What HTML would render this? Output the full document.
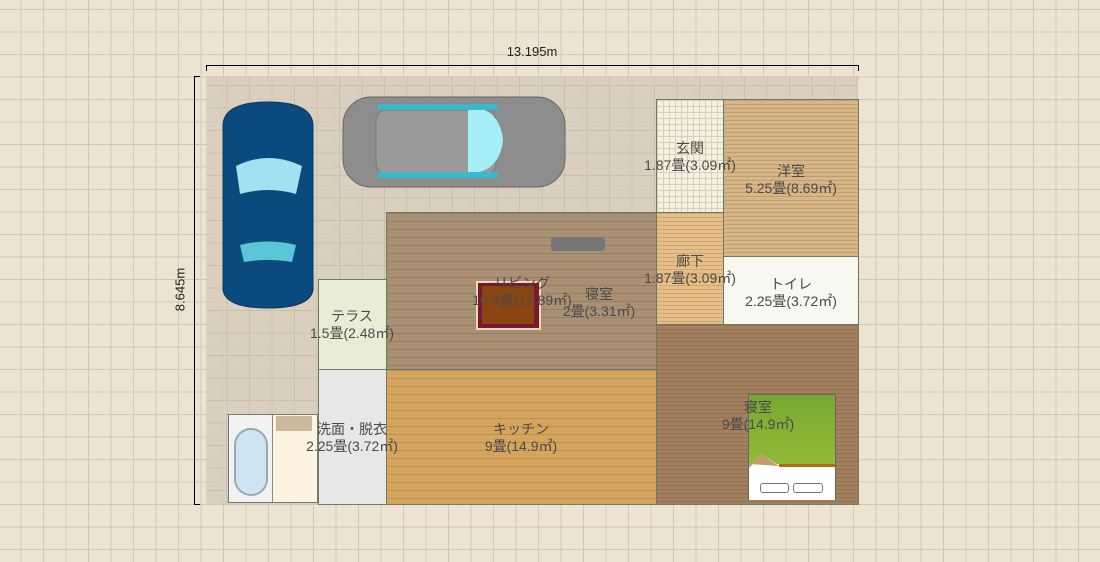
<!DOCTYPE html>
<html><head><meta charset="utf-8"><style>
body{margin:0;width:1100px;height:562px;overflow:hidden;font-family:"Liberation Sans","Noto Sans CJK JP",sans-serif;
background-color:#ede3d2;
background-image:linear-gradient(#d3c8b6 1px,transparent 1px),linear-gradient(90deg,#d3c8b6 1px,transparent 1px);
background-size:22.5px 22.5px;background-position:-2px 9px;position:relative}
.a{position:absolute;box-sizing:border-box}
.r{position:absolute;box-sizing:border-box;border:1px solid #6f7a62}
.t{position:absolute;font-size:14px;color:#4a4a4a;text-align:center;line-height:17px;white-space:nowrap;transform:translateX(-50%)}
.brick{background-image:linear-gradient(rgba(0,0,0,.12) 1px,transparent 1px);background-size:100% 8px}
</style></head><body>
<div class="a" style="left:206px;top:76px;width:652px;height:428px;background-color:rgba(215,205,188,.85);background-image:linear-gradient(#c9bfae 1px,transparent 1px),linear-gradient(90deg,#c9bfae 1px,transparent 1px);background-size:22.5px 22.5px;background-position:-2px 9px"></div>
<!-- dims -->
<div class="a" style="left:206px;top:65px;width:653px;height:6px;border-top:1px solid #000;border-left:1px solid #000;border-right:1px solid #000"></div>
<div class="t" style="left:532px;top:43px;font-size:13px;color:#222">13.195m</div>
<div class="a" style="left:194px;top:76px;width:6px;height:429px;border-left:1px solid #000;border-top:1px solid #000;border-bottom:1px solid #000"></div>
<div class="a" style="left:156px;top:282px;font-size:13px;color:#222;transform:rotate(-90deg);width:48px;text-align:center">8.645m</div>
<!-- rooms -->
<div class="r" style="left:318px;top:279px;width:69px;height:91px;background:#e8eed6"></div>
<div class="r brick" style="left:386px;top:212px;width:271px;height:158px;background-color:#aa9072"></div>
<div class="r" style="left:318px;top:369px;width:69px;height:136px;background:#e7e7e7"></div>
<div class="r brick" style="left:386px;top:369px;width:271px;height:136px;background-color:#d5a55e"></div>
<div class="r" style="left:656px;top:99px;width:68px;height:114px;background-color:#f6f0e0;background-image:linear-gradient(#d8d0bb 1px,transparent 1px),linear-gradient(90deg,#d8d0bb 1px,transparent 1px);background-size:6px 6px"></div>
<div class="r brick" style="left:723px;top:99px;width:136px;height:158px;background-color:#d7b586;background-size:100% 4px"></div>
<div class="r brick" style="left:656px;top:212px;width:68px;height:113px;background-color:#e7be86;background-size:100% 4px"></div>
<div class="r" style="left:723px;top:256px;width:136px;height:69px;background:#f8f8f0"></div>
<div class="r brick" style="left:656px;top:324px;width:203px;height:181px;background-color:#a4805f;background-size:100% 4px"></div>
<!-- bath -->
<div class="a" style="left:228px;top:414px;width:90px;height:89px;border:1px solid #777;background:#fdf3e0"></div>
<div class="a" style="left:229px;top:415px;width:44px;height:87px;background:#f2f2f2;border-right:1px solid #888"></div>
<div class="a" style="left:234px;top:428px;width:34px;height:68px;border-radius:17px;border:2px solid #9aa;background:#cfe4f2"></div>
<div class="a" style="left:276px;top:416px;width:36px;height:15px;background:#c9b99a"></div>
<!-- rug -->
<div class="a" style="left:476px;top:281px;width:65px;height:49px;background:#7a1830;border:2px solid #e8d8c0"></div>
<div class="a" style="left:482px;top:286px;width:52px;height:38px;background:#8a4510"></div>
<div class="a" style="left:551px;top:237px;width:54px;height:14px;background:#777;border-radius:3px"></div>
<!-- bed -->
<div class="a" style="left:748px;top:394px;width:88px;height:106px;border:1px solid #666;background:linear-gradient(#7aa830,#9cc43a)"></div>
<svg class="a" style="left:749px;top:450px" width="86" height="50"><path d="M0 18 L12 4 L28 14 L86 14 L86 50 L0 50Z" fill="#fff"/><path d="M0 18 L12 4 L30 16 L0 14Z" fill="#c49a70"/><rect x="30" y="14" width="56" height="3" fill="#b56a1a"/></svg>
<div class="a" style="left:760px;top:483px;width:29px;height:10px;border:1px solid #777;border-radius:3px"></div>
<div class="a" style="left:793px;top:483px;width:30px;height:10px;border:1px solid #777;border-radius:3px"></div>
<!-- cars -->
<svg class="a" style="left:0;top:0" width="1100" height="562">
<path d="M268 102 Q312 102 313 125 L313 290 Q310 308 268 308 Q226 308 223 290 L223 125 Q224 102 268 102Z" fill="#0a4a7e" stroke="#083a63"/>
<path d="M236 166 Q268 150 302 166 L296 194 Q268 186 240 194Z" fill="#9ee3ef"/>
<path d="M240 245 Q268 238 296 245 L292 262 Q268 258 244 262Z" fill="#5bc6d8"/>
<rect x="343" y="97" width="222" height="90" rx="28" fill="#8d8d8d" stroke="#666"/>
<rect x="376" y="110" width="120" height="64" rx="10" fill="#9a9a9a" stroke="#777"/>
<path d="M468 106 Q500 108 503 140 Q500 172 468 174Z" fill="#a4eef5"/>
<rect x="378" y="104" width="120" height="6" fill="#3bb8cc"/><rect x="378" y="172" width="120" height="6" fill="#3bb8cc"/>
</svg>
<!-- labels -->
<div class="t" style="left:352px;top:308px">テラス<br>1.5畳(2.48㎡)</div>
<div class="t" style="left:522px;top:275px">リビング<br>10.5畳(17.89㎡)</div>
<div class="t" style="left:599px;top:286px">寝室<br>2畳(3.31㎡)</div>
<div class="t" style="left:352px;top:421px">洗面・脱衣<br>2.25畳(3.72㎡)</div>
<div class="t" style="left:521px;top:421px">キッチン<br>9畳(14.9㎡)</div>
<div class="t" style="left:690px;top:140px">玄関<br>1.87畳(3.09㎡)</div>
<div class="t" style="left:791px;top:163px">洋室<br>5.25畳(8.69㎡)</div>
<div class="t" style="left:690px;top:253px">廊下<br>1.87畳(3.09㎡)</div>
<div class="t" style="left:791px;top:276px">トイレ<br>2.25畳(3.72㎡)</div>
<div class="t" style="left:758px;top:399px">寝室<br>9畳(14.9㎡)</div>
</body></html>
